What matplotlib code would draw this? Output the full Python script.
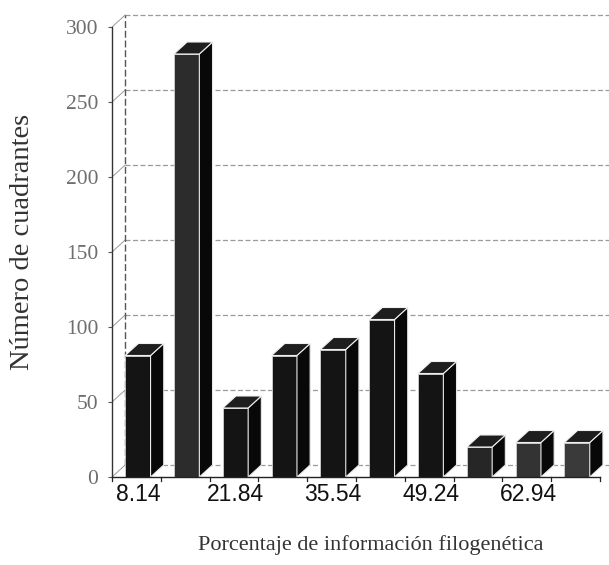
import matplotlib
matplotlib.use("Agg")
import matplotlib.pyplot as plt
from matplotlib.patches import Polygon

# Histogram of quadrants by percentage of phylogenetic information
bin_starts = [8.14, 14.99, 21.84, 28.69, 35.54, 42.39, 49.24, 56.09, 62.94, 69.79]
counts = [81, 282, 46, 81, 85, 105, 69, 20, 23, 23]
tick_labels = ["8.14", "", "21.84", "", "35.54", "", "49.24", "", "62.94", ""]
y_ticks = [0, 50, 100, 150, 200, 250, 300]

front_colors = ["#141414", "#2c2c2c", "#141414", "#141414", "#141414",
                "#141414", "#141414", "#262626", "#333333", "#3a3a3a"]

fig = plt.figure(figsize=(6.09, 5.65), dpi=100)
ax = fig.add_axes([112 / 609, 88 / 565, 488 / 609, 465 / 565])
ax.set_xlim(-0.5, 9.5)
ax.set_ylim(0, 310)

# depth of the pseudo-3D box, in data units
dx, dy = 0.27, 8.0
x = list(range(len(counts)))
width = 0.52
offset = 0.03

grid_kw = dict(color="#9a9a9a", lw=0.9, ls=(0, (4, 2)), zorder=1)
# back wall grid lines and left wall connectors
for v in y_ticks:
    ax.plot([-0.5 + dx, 9.5 + dx], [v + dy, v + dy], clip_on=False, **grid_kw)
    ax.plot([-0.5, -0.5 + dx], [v, v + dy], color="#9a9a9a", lw=0.7, zorder=1)
ax.plot([-0.5 + dx, -0.5 + dx], [dy, 300 + dy], color="#555555", lw=1.0,
        ls=(0, (5, 2)), zorder=1)

# front faces
bars = ax.bar([i + offset for i in x], counts, width=width, color=front_colors,
              edgecolor="#d0d0d0", linewidth=0.6, zorder=3)

# side and top faces derived from each bar
for bar in bars:
    xl = bar.get_x()
    xr = xl + bar.get_width()
    h = bar.get_height()
    side = Polygon([(xr, 0), (xr + dx, dy), (xr + dx, h + dy), (xr, h)],
                   closed=True, facecolor="#080808", edgecolor="#e8e8e8",
                   linewidth=0.8, zorder=3, clip_on=False)
    top = Polygon([(xl, h), (xr, h), (xr + dx, h + dy), (xl + dx, h + dy)],
                  closed=True, facecolor="#1e1e1e", edgecolor="#f0f0f0",
                  linewidth=0.8, zorder=3, clip_on=False)
    ax.add_patch(side)
    ax.add_patch(top)

# floor front edge with bin boundary ticks
ax.plot([-0.5, 9.5], [0, 0], color="#222222", lw=1.0, zorder=4, clip_on=False)
for b in range(11):
    ax.plot([b - 0.5, b - 0.5], [0, -2.5], color="#222222", lw=0.9,
            zorder=4, clip_on=False)

for s in ["top", "right", "bottom"]:
    ax.spines[s].set_visible(False)
ax.spines["left"].set_bounds(0, 300)
ax.spines["left"].set_color("#333333")
ax.spines["left"].set_linewidth(1.0)

ax.set_yticks(y_ticks)
ax.set_yticklabels([str(v) for v in y_ticks], family="Liberation Serif",
                   fontsize=15.5, color="#6e6e6e")
ax.tick_params(axis="y", length=3, width=0.8, color="#555555", pad=7)

ax.set_xticks([i + offset for i in x])
ax.set_xticklabels(tick_labels, family="Liberation Sans", fontsize=16.5,
                   color="#111111")
ax.tick_params(axis="x", length=0, pad=4)

ax.set_ylabel("Número de cuadrantes", family="Liberation Serif",
              fontsize=20.5, color="#333333")
ax.yaxis.set_label_coords(-0.158, 0.505)
ax.set_xlabel("Porcentaje de información filogenética",
              family="Liberation Serif", fontsize=16, color="#333333")
ax.xaxis.set_label_coords(0.53, -0.125)

fig.savefig("out.png", dpi=100, facecolor="white")
